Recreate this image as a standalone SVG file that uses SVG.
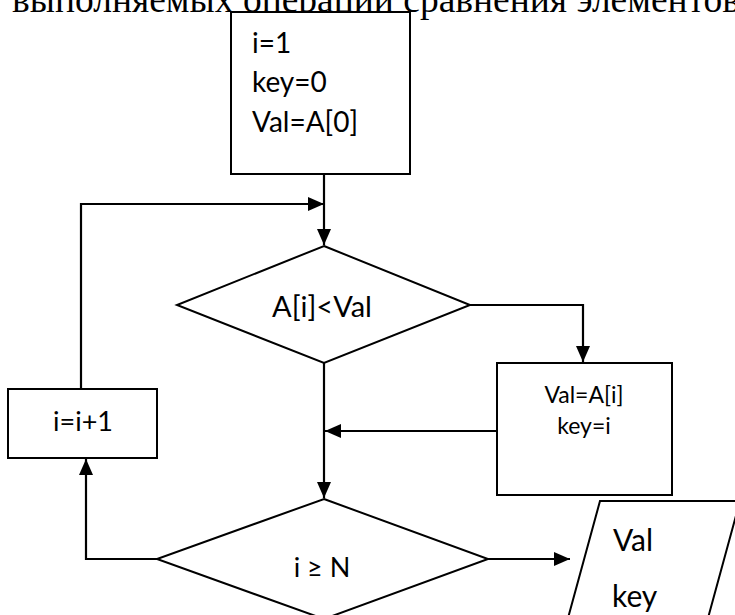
<svg xmlns="http://www.w3.org/2000/svg" width="735" height="615" viewBox="0 0 735 615">
  <style>
    .shape { fill: #ffffff; stroke: #000000; stroke-width: 2; }
    .link { fill: none; stroke: #000000; stroke-width: 2.2; }
    .lbl { font-family: Lato, "Open Sans", sans-serif; fill: #000000; }
    .big { font-size: 28px; }
    .mid { font-size: 27px; }
    .cond { font-size: 29px; }
    .io { font-size: 30px; }
    .sm { font-size: 23px; }
    .caption { font-family: "Liberation Serif", "Times New Roman", serif; font-size: 37px; fill: #000000; }
  </style>
  <defs>
    <marker id="arrow" markerUnits="userSpaceOnUse" markerWidth="16" markerHeight="14" refX="16" refY="7" orient="auto">
      <path d="M0,0 L16,7 L0,14 z" fill="#000000"/>
    </marker>
  </defs>

  <rect width="735" height="615" fill="#ffffff"/>

  <!-- tail of the preceding text line -->
  <text class="caption" x="12" y="12" textLength="728" lengthAdjust="spacingAndGlyphs">выполняемых операций сравнения элементов</text>

  <g id="init">
    <rect class="shape" x="231" y="12" width="179" height="162"/>
    <text class="lbl big" x="252" y="53">i=1</text>
    <text class="lbl big" x="252" y="92">key=0</text>
    <text class="lbl big" x="252" y="132">Val=A[0]</text>
  </g>

  <g id="cmp">
    <polygon class="shape" points="324,246 470,305 324,363 177,305"/>
    <text class="lbl cond" x="322" y="317" text-anchor="middle">A[i]&lt;Val</text>
  </g>

  <g id="assign">
    <rect class="shape" x="497" y="363" width="175" height="132"/>
    <text class="lbl sm" x="584" y="403" text-anchor="middle">Val=A[i]</text>
    <text class="lbl sm" x="584" y="434" text-anchor="middle">key=i</text>
  </g>

  <g id="inc">
    <rect class="shape" x="8" y="389" width="149" height="69"/>
    <text class="lbl mid" x="83" y="431" text-anchor="middle">i=i+1</text>
  </g>

  <g id="check">
    <polygon class="shape" points="324,499 488,559 324,619 157,559"/>
    <text class="lbl mid" x="322" y="577" text-anchor="middle">i ≥ N</text>
  </g>

  <g id="output">
    <polygon class="shape" points="600,501 740,501 702,640 562,640"/>
    <text class="lbl io" x="613" y="551">Val</text>
    <text class="lbl io" x="612" y="607">key</text>
  </g>

  <g id="connectors">
    <path class="link" d="M324,174 V245" marker-end="url(#arrow)"/>
    <path class="link" d="M81,389 V204 H324" marker-end="url(#arrow)"/>
    <path class="link" d="M470,305 H583 V362" marker-end="url(#arrow)"/>
    <path class="link" d="M497,431 H325" marker-end="url(#arrow)"/>
    <path class="link" d="M324,363 V498" marker-end="url(#arrow)"/>
    <path class="link" d="M157,559 H86 V459" marker-end="url(#arrow)"/>
    <path class="link" d="M488,559 H570" marker-end="url(#arrow)"/>
  </g>
</svg>
